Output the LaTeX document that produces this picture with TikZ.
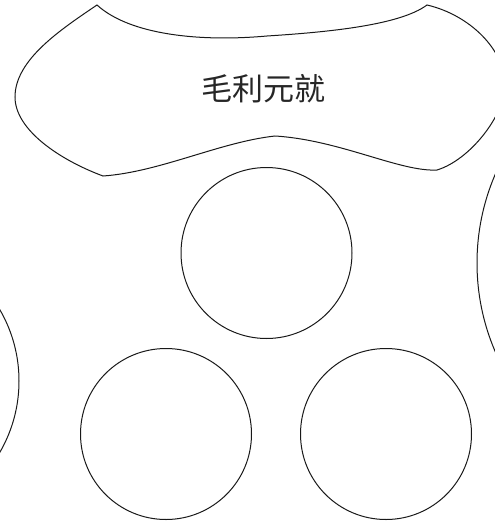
\documentclass[tikz,border=0pt]{standalone}
\usepackage{fontspec}
\newfontfamily\cjk{Noto Sans CJK SC}
\begin{document}
\begin{tikzpicture}[x=1pt,y=-1pt,
  outline/.style={draw=black!90,line width=1pt},
  ring/.style={outline,circle,inner sep=0pt,minimum size=#1}]
\useasboundingbox (0,0) rectangle (495,522);
\clip (0,0) rectangle (495,522);
% top banner shape
\draw[outline]
  (97,5) .. controls (130,35) and (200,42) .. (267,36)
  .. controls (330,32) and (400,25) .. (427,5)
  .. controls (470,15) and (505,50) .. (505,85)
  .. controls (505,115) and (470,160) .. (437,170)
  .. controls (400,172) and (340,140) .. (275,136)
  .. controls (220,142) and (160,172) .. (103,176)
  .. controls (60,160) and (15,130) .. (15,97)
  .. controls (15,60) and (60,30) .. cycle;
\node[text=black!85,font=\cjk\fontsize{31}{37}\selectfont] (title) at (263,89) {毛利元就};
% circles
\node[ring=171pt] (c1) at (266.5,253) {};
\node[ring=171pt] (c2) at (166,434) {};
\node[ring=171pt] (c3) at (386,434) {};
\node[ring=284pt] (cl) at (-123,381) {};
\node[ring=448pt] (cr) at (701,263) {};
\end{tikzpicture}
\end{document}
